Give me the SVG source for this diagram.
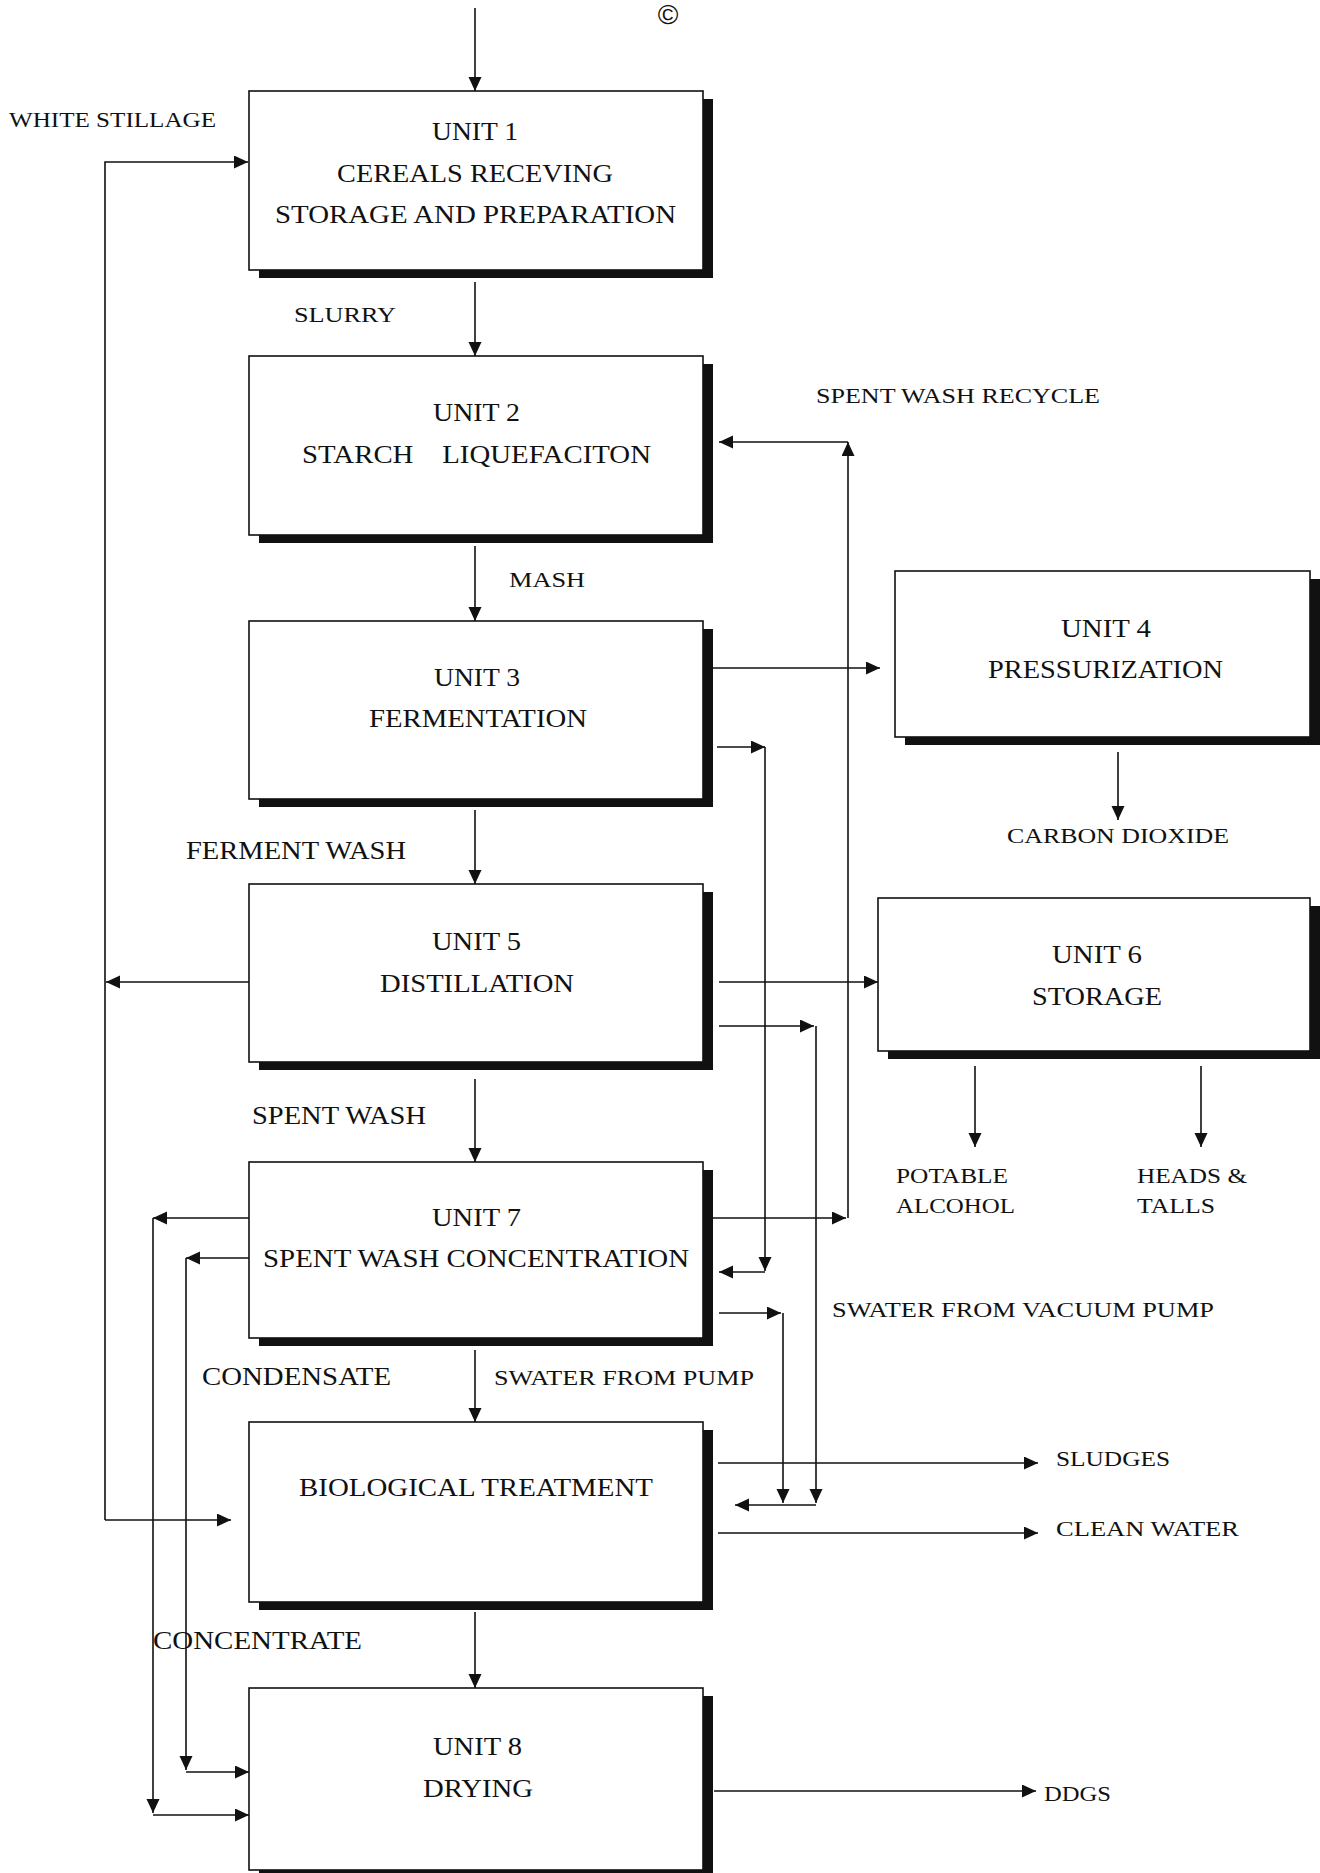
<svg xmlns="http://www.w3.org/2000/svg" width="1320" height="1873" viewBox="0 0 1320 1873">
  <style>
    .box { fill: #ffffff; stroke: #111111; stroke-width: 1.6; }
    .shadow { fill: #111111; stroke: none; }
    .t { font-family: "Liberation Serif", "Times New Roman", serif; font-size: 26px; fill: #111111; }
    .s { font-family: "Liberation Serif", "Times New Roman", serif; font-size: 22px; fill: #111111; }
    .mark { font-family: "Liberation Sans", Arial, sans-serif; font-size: 28px; fill: #111111; }
    .c { fill: none; stroke: #111111; stroke-width: 1.6; marker-end: url(#ah); }
  </style>
  <defs>
    <marker id="ah" markerUnits="userSpaceOnUse" markerWidth="16" markerHeight="14" refX="14" refY="6.5" orient="auto">
      <path d="M0,0 L14,6.5 L0,13 z" fill="#111111"/>
    </marker>
  </defs>

  <rect width="1320" height="1873" fill="#ffffff"/>

  <!-- connectors -->
  <g id="connectors">
    <!-- main column -->
    <path class="c" d="M475,8 V91"/>
    <path class="c" d="M475,282 V356"/>
    <path class="c" d="M475,546 V621"/>
    <path class="c" d="M475,810 V884"/>
    <path class="c" d="M475,1079 V1162"/>
    <path class="c" d="M475,1350 V1422"/>
    <path class="c" d="M475,1612 V1688"/>

    <!-- white stillage return loop -->
    <path class="c" d="M105,1520 V162 H248"/>
    <path class="c" d="M105,1520 H231"/>
    <path class="c" d="M249,982 H106"/>

    <!-- fermentation to pressurization, CO2 -->
    <path class="c" d="M712,668 H880"/>
    <path class="c" d="M1118,752 V820"/>

    <!-- fermentation return to unit 7 -->
    <path class="c" d="M717,747 H765"/>
    <path class="c" d="M765,747 V1271"/>
    <path class="c" d="M765,1272 H719"/>

    <!-- spent wash recycle -->
    <path class="c" d="M712,1218 H846"/>
    <path class="c" d="M848,1218 V442"/>
    <path class="c" d="M848,442 H719"/>

    <!-- distillation to storage and to treatment -->
    <path class="c" d="M719,982 H878"/>
    <path class="c" d="M719,1026 H814"/>
    <path class="c" d="M816,1026 V1503"/>
    <path class="c" d="M816,1505 H735"/>

    <!-- vacuum pump water to treatment -->
    <path class="c" d="M719,1313 H781"/>
    <path class="c" d="M783,1313 V1503"/>

    <!-- storage outputs -->
    <path class="c" d="M975,1066 V1147"/>
    <path class="c" d="M1201,1066 V1147"/>

    <!-- treatment outputs -->
    <path class="c" d="M718,1463 H1038"/>
    <path class="c" d="M718,1533 H1038"/>

    <!-- drying output -->
    <path class="c" d="M714,1791 H1036"/>

    <!-- condensate / concentrate lines to drying -->
    <path class="c" d="M249,1218 H153"/>
    <path class="c" d="M153,1218 V1813"/>
    <path class="c" d="M153,1815 H249"/>
    <path class="c" d="M249,1258 H186"/>
    <path class="c" d="M186,1258 V1770"/>
    <path class="c" d="M186,1772 H249"/>
  </g>

  <!-- free labels -->
  <g id="labels">
    <text class="mark" x="668" y="24" text-anchor="middle">©</text>
    <text class="s" x="9" y="127" textLength="207" lengthAdjust="spacingAndGlyphs">WHITE STILLAGE</text>
    <text class="s" x="294" y="322" textLength="102" lengthAdjust="spacingAndGlyphs">SLURRY</text>
    <text class="s" x="816" y="403" textLength="284" lengthAdjust="spacingAndGlyphs">SPENT WASH RECYCLE</text>
    <text class="s" x="509" y="587" textLength="76" lengthAdjust="spacingAndGlyphs">MASH</text>
    <text class="s" x="1007" y="843" textLength="222" lengthAdjust="spacingAndGlyphs">CARBON DIOXIDE</text>
    <text class="t" x="186" y="859" textLength="220" lengthAdjust="spacingAndGlyphs">FERMENT WASH</text>
    <text class="t" x="252" y="1124" textLength="174" lengthAdjust="spacingAndGlyphs">SPENT WASH</text>
    <text class="s" x="896" y="1183" textLength="112" lengthAdjust="spacingAndGlyphs">POTABLE</text>
    <text class="s" x="896" y="1213" textLength="119" lengthAdjust="spacingAndGlyphs">ALCOHOL</text>
    <text class="s" x="1137" y="1183" textLength="110" lengthAdjust="spacingAndGlyphs">HEADS &amp;</text>
    <text class="s" x="1137" y="1213" textLength="78" lengthAdjust="spacingAndGlyphs">TALLS</text>
    <text class="s" x="832" y="1317" textLength="382" lengthAdjust="spacingAndGlyphs">SWATER FROM VACUUM PUMP</text>
    <text class="t" x="202" y="1385" textLength="189" lengthAdjust="spacingAndGlyphs">CONDENSATE</text>
    <text class="s" x="494" y="1385" textLength="260" lengthAdjust="spacingAndGlyphs">SWATER FROM PUMP</text>
    <text class="s" x="1056" y="1466" textLength="114" lengthAdjust="spacingAndGlyphs">SLUDGES</text>
    <text class="s" x="1056" y="1536" textLength="183" lengthAdjust="spacingAndGlyphs">CLEAN WATER</text>
    <text class="t" x="153" y="1649" textLength="209" lengthAdjust="spacingAndGlyphs">CONCENTRATE</text>
    <text class="s" x="1044" y="1801" textLength="67" lengthAdjust="spacingAndGlyphs">DDGS</text>
  </g>

  <!-- process units -->
  <g id="unit1">
    <rect class="shadow" x="259" y="99" width="454" height="179"/>
    <rect class="box" x="249" y="91" width="454" height="179"/>
    <text class="t" x="432" y="140" textLength="86" lengthAdjust="spacingAndGlyphs">UNIT 1</text>
    <text class="t" x="337" y="182" textLength="276" lengthAdjust="spacingAndGlyphs">CEREALS RECEVING</text>
    <text class="t" x="275" y="223" textLength="401" lengthAdjust="spacingAndGlyphs">STORAGE AND PREPARATION</text>
  </g>

  <g id="unit2">
    <rect class="shadow" x="259" y="364" width="454" height="179"/>
    <rect class="box" x="249" y="356" width="454" height="179"/>
    <text class="t" x="433" y="421" textLength="87" lengthAdjust="spacingAndGlyphs">UNIT 2</text>
    <text class="t" x="302" y="463" textLength="349" lengthAdjust="spacingAndGlyphs" xml:space="preserve">STARCH    LIQUEFACITON</text>
  </g>

  <g id="unit3">
    <rect class="shadow" x="259" y="629" width="454" height="178"/>
    <rect class="box" x="249" y="621" width="454" height="178"/>
    <text class="t" x="434" y="686" textLength="86" lengthAdjust="spacingAndGlyphs">UNIT 3</text>
    <text class="t" x="369" y="727" textLength="218" lengthAdjust="spacingAndGlyphs">FERMENTATION</text>
  </g>

  <g id="unit4">
    <rect class="shadow" x="905" y="579" width="415" height="166"/>
    <rect class="box" x="895" y="571" width="415" height="166"/>
    <text class="t" x="1061" y="637" textLength="90" lengthAdjust="spacingAndGlyphs">UNIT 4</text>
    <text class="t" x="988" y="678" textLength="235" lengthAdjust="spacingAndGlyphs">PRESSURIZATION</text>
  </g>

  <g id="unit5">
    <rect class="shadow" x="259" y="892" width="454" height="178"/>
    <rect class="box" x="249" y="884" width="454" height="178"/>
    <text class="t" x="432" y="950" textLength="89" lengthAdjust="spacingAndGlyphs">UNIT 5</text>
    <text class="t" x="380" y="992" textLength="194" lengthAdjust="spacingAndGlyphs">DISTILLATION</text>
  </g>

  <g id="unit6">
    <rect class="shadow" x="888" y="906" width="432" height="153"/>
    <rect class="box" x="878" y="898" width="432" height="153"/>
    <text class="t" x="1052" y="963" textLength="90" lengthAdjust="spacingAndGlyphs">UNIT 6</text>
    <text class="t" x="1032" y="1005" textLength="130" lengthAdjust="spacingAndGlyphs">STORAGE</text>
  </g>

  <g id="unit7">
    <rect class="shadow" x="259" y="1170" width="454" height="176"/>
    <rect class="box" x="249" y="1162" width="454" height="176"/>
    <text class="t" x="432" y="1226" textLength="89" lengthAdjust="spacingAndGlyphs">UNIT 7</text>
    <text class="t" x="263" y="1267" textLength="426" lengthAdjust="spacingAndGlyphs">SPENT WASH CONCENTRATION</text>
  </g>

  <g id="biological-treatment">
    <rect class="shadow" x="259" y="1430" width="454" height="180"/>
    <rect class="box" x="249" y="1422" width="454" height="180"/>
    <text class="t" x="299" y="1496" textLength="354" lengthAdjust="spacingAndGlyphs">BIOLOGICAL TREATMENT</text>
  </g>

  <g id="unit8">
    <rect class="shadow" x="259" y="1696" width="454" height="182"/>
    <rect class="box" x="249" y="1688" width="454" height="182"/>
    <text class="t" x="433" y="1755" textLength="89" lengthAdjust="spacingAndGlyphs">UNIT 8</text>
    <text class="t" x="423" y="1797" textLength="110" lengthAdjust="spacingAndGlyphs">DRYING</text>
  </g>
</svg>
